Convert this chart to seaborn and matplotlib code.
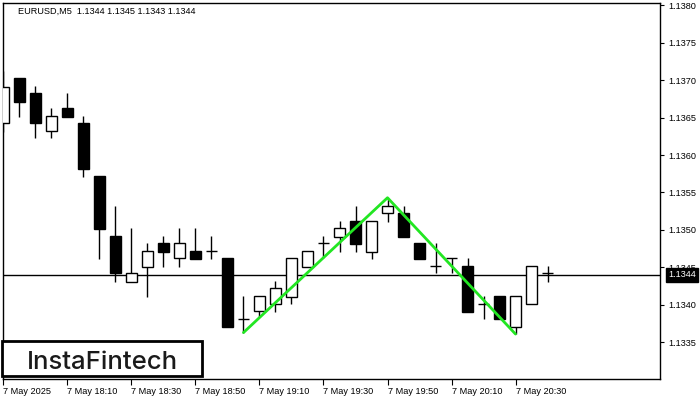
import matplotlib
matplotlib.use("Agg")
import matplotlib.pyplot as plt
import matplotlib.transforms as mtransforms
from matplotlib.patches import Rectangle
import numpy as np
import pandas as pd
import seaborn as sns

# Datos de velas M5
opens = [1.13643, 1.13703, 1.13683, 1.13632, 1.13663, 1.13643, 1.13572, 1.13492, 1.13431,
         1.13451, 1.13483, 1.13463, 1.13472, 1.13472, 1.13463, 1.13381, 1.13392, 1.13401,
         1.13411, 1.13451, 1.13483, 1.13491, 1.13512, 1.13471, 1.13523, 1.13523, 1.13483,
         1.13452, 1.13463, 1.13452, 1.13401, 1.13412, 1.13371, 1.13401, 1.13443]
highs = [1.13712, 1.13703, 1.13692, 1.13663, 1.13683, 1.13652, 1.13572, 1.13532, 1.13503,
         1.13483, 1.13492, 1.13503, 1.13503, 1.13492, 1.13463, 1.13412, 1.13412, 1.13432,
         1.13463, 1.13472, 1.13492, 1.13512, 1.13532, 1.13512, 1.13543, 1.13532, 1.13483,
         1.13483, 1.13463, 1.13463, 1.13412, 1.13412, 1.13412, 1.13452, 1.13452]
lows = [1.13631, 1.13651, 1.13623, 1.13623, 1.13651, 1.13571, 1.13461, 1.13431, 1.13431,
        1.13411, 1.13451, 1.13451, 1.13461, 1.13461, 1.13371, 1.13363, 1.13384, 1.13391,
        1.13401, 1.13451, 1.13463, 1.13471, 1.13471, 1.13461, 1.13511, 1.13491, 1.13461,
        1.13443, 1.13443, 1.13391, 1.13381, 1.13381, 1.13361, 1.13401, 1.13431]
closes = [1.13691, 1.13671, 1.13643, 1.13652, 1.13651, 1.13581, 1.13501, 1.13443, 1.13443,
          1.13472, 1.13471, 1.13483, 1.13461, 1.13472, 1.13371, 1.13381, 1.13412, 1.13423,
          1.13463, 1.13472, 1.13483, 1.13503, 1.13481, 1.13512, 1.13532, 1.13491, 1.13461,
          1.13452, 1.13463, 1.13391, 1.13401, 1.13381, 1.13412, 1.13452, 1.13443]

tick_bars = [0, 4, 8, 12, 16, 20, 24, 28, 32]
time_labels = ["7 May 2025", "7 May 18:10", "7 May 18:30", "7 May 18:50", "7 May 19:10",
               "7 May 19:30", "7 May 19:50", "7 May 20:10", "7 May 20:30"]

# Patron (doble techo)
pattern_bars = [15, 24, 32]
pattern_prices = [1.13363, 1.13543, 1.13361]

last_price = 1.1344
price_ticks = [1.1335, 1.1340, 1.1345, 1.1350, 1.1355, 1.1360, 1.1365, 1.1370, 1.1375, 1.1380]

df = pd.DataFrame({"open": opens, "high": highs, "low": lows, "close": closes})
df["bar"] = np.arange(len(df))

sns.set_style("white")
plt.rcParams["font.family"] = ["Liberation Sans", "DejaVu Sans"]

fig = plt.figure(figsize=(7, 4), dpi=100)
ax = fig.add_axes([3 / 700, 21 / 400, 657 / 700, 376 / 400])

# Linea del ultimo precio
ax.axhline(last_price, color="black", lw=1.0, zorder=1)

w = 0.68
for _, r in df.iterrows():
    x = r["bar"]
    ax.vlines(x, r["low"], r["high"], color="black", lw=1.0, zorder=2)
    if r["open"] == r["close"]:
        ax.hlines(r["open"], x - w / 2, x + w / 2, color="black", lw=1.0, zorder=3)
    else:
        lo = min(r["open"], r["close"])
        h = abs(r["close"] - r["open"])
        fc = "white" if r["close"] > r["open"] else "black"
        ax.add_patch(Rectangle((x - w / 2, lo), w, h, facecolor=fc, edgecolor="black",
                               lw=1.0, zorder=3))

pat = pd.DataFrame({"bar": pattern_bars, "price": pattern_prices})
sns.lineplot(data=pat, x="bar", y="price", color="#22e622", lw=2.0, ax=ax, zorder=5)

ax.set_xlim(-0.03, 41.03)
ax.set_ylim(1.13301, 1.13803)

for s in ax.spines.values():
    s.set_color("black")
    s.set_linewidth(1.0)

ax.set_xlabel("")
ax.set_ylabel("")
ax.set_xticks(tick_bars)
ax.set_xticklabels(time_labels, fontsize=6.6, ha="left")
ax.set_yticks(price_ticks)
ax.set_yticklabels([f"{p:.4f}" for p in price_ticks], fontsize=6.6)
ax.yaxis.tick_right()
ax.tick_params(axis="x", bottom=True, direction="out", length=4, width=0.8, pad=2,
               colors="black")
ax.tick_params(axis="y", right=True, left=False, direction="out", length=3, width=0.8,
               pad=3, colors="black")

# Etiqueta del precio actual
trans = mtransforms.blended_transform_factory(ax.transAxes, ax.transData)
ax.text(1.012, last_price, f"{last_price:.4f}", transform=trans, ha="left", va="center",
        fontsize=6.6, color="white", zorder=10, clip_on=False,
        bbox=dict(boxstyle="square,pad=0.25", facecolor="black", edgecolor="black"))

fig.text(18 / 700, 1 - 11 / 400, "EURUSD,M5  1.1344 1.1345 1.1343 1.1344",
         fontsize=6.6, va="center", ha="left", color="black")

# Logo
fig.add_artist(Rectangle((2 / 700, 1 - 376 / 400), 200 / 700, 35 / 400,
                         transform=fig.transFigure, facecolor="white", edgecolor="black",
                         lw=2.0, zorder=20))
fig.text(102 / 700, 1 - 369 / 400, "InstaFintech", fontsize=18.5, family="Inter",
         weight="medium", ha="center", va="baseline", color="#1a1a1a", zorder=21)

fig.savefig("out.png", dpi=100)
